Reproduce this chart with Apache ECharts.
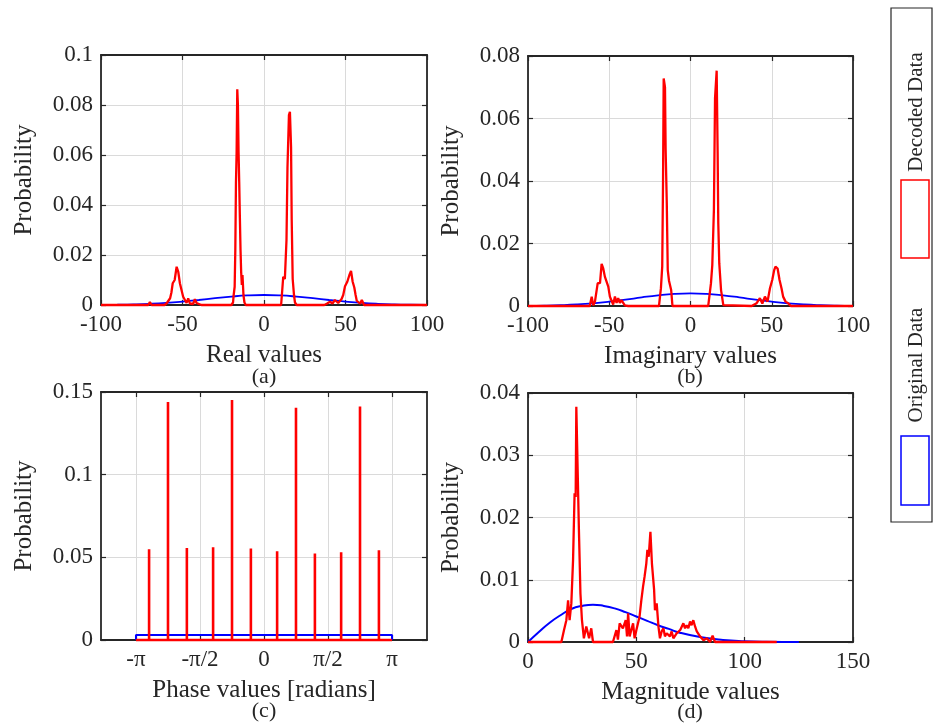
<!DOCTYPE html>
<html>
<head>
<meta charset="utf-8">
<script src="https://cdn.jsdelivr.net/npm/echarts@6/dist/echarts.min.js"></script>
<style>
  html, body { margin: 0; padding: 0; background: #fff; }
  #main { width: 934px; height: 724px; }
</style>
</head>
<body>
<div id="main"></div>
<script>
// 数据
var realOriginal = [[-100,0.00005],[-90,0.00012],[-80,0.00025],[-70,0.00048],[-60,0.00084],[-50,0.00136],[-40,0.002],[-30,0.00271],[-20,0.00336],[-10,0.00383],[0,0.004],
  [10,0.00383],[20,0.00336],[30,0.00271],[40,0.002],[50,0.00136],[60,0.00084],[70,0.00048],[80,0.00025],[90,0.00012],[100,0.00005]];
var realDecoded = [[-100,0],[-71,0],[-70,0.0012],[-69,0],[-61,0],[-59.7,0.0007],[-58.6,0.0012],[-57.6,0.0027],[-56.8,0.005],[-56,0.0087],[-54.8,0.01],[-53.6,0.0153],
  [-52.6,0.0133],[-51.6,0.0087],[-50.6,0.0093],[-49.6,0.0033],[-48.5,0.002],[-47.5,0.0008],[-46.5,0.0027],[-45.5,0.0006],[-44.5,0.0013],[-43.5,0.0004],[-42.4,0.0023],
  [-41.4,0.0008],[-40.4,0.0005],[-38.4,0],
  [-20,0],[-19,0.001],[-18.6,0.004],[-18,0.0073],[-17.6,0.022],[-17.2,0.049],[-16.8,0.061],[-16.4,0.0863],[-16,0.08],[-15.6,0.061],[-15.2,0.049],[-14.8,0.035],
  [-14.4,0.022],[-14,0.013],[-13.6,0.008],[-13.2,0.012],[-12.6,0.004],[-12,0.001],[-11.2,0],
  [10.5,0],[11.2,0.006],[11.8,0.0113],[12.8,0.0104],[13.8,0.026],[14.4,0.055],[15.3,0.076],[15.9,0.0773],[16.6,0.063],[17,0.034],[17.6,0.0104],[18.4,0.004],[19,0.001],[20,0],
  [37,0],[38.5,0.0005],[40.5,0.0013],[42,0.0006],[43.5,0.002],[45.5,0.0008],[47.6,0.0024],[48.6,0.004],[49.7,0.0075],[51.1,0.0093],[52.4,0.012],[53.4,0.0136],
  [54.4,0.0093],[55.4,0.007],[56.2,0.004],[56.9,0.0017],[59,0.0005],[60,0.002],[61.4,0],[100,0]];

var imagOriginal = [[-100,0.00005],[-90,0.00012],[-80,0.00026],[-70,0.00049],[-60,0.00086],[-50,0.00138],[-40,0.00203],[-30,0.00275],[-20,0.0034],[-10,0.00388],[0,0.00405],
  [10,0.00388],[20,0.0034],[30,0.00275],[40,0.00203],[50,0.00138],[60,0.00086],[70,0.00049],[80,0.00026],[90,0.00012],[100,0.00005]];
var imagDecoded = [[-100,0],[-62,0],[-60.8,0.003],[-59.8,0.0002],[-58.8,0.0014],[-57.1,0.0073],[-55.7,0.0073],[-54.7,0.0135],[-53.7,0.012],[-52.7,0.0094],[-51.7,0.0089],
  [-50.6,0.0062],[-49.6,0.003],[-48.6,0.0025],[-47.6,0.0005],[-46.5,0.003],[-45.5,0.001],[-44.5,0.0025],[-43.5,0.001],[-42.5,0.0019],[-40.4,0.0002],[-38.4,0],
  [-19.4,0],[-18.2,0.0057],[-17.4,0.0126],[-16.9,0.04],[-16.5,0.0728],[-15.7,0.07],[-15.3,0.05],[-14.6,0.033],[-14,0.0115],[-13.2,0.008],[-11.9,0.0051],[-11.1,0],
  [10.9,0],[12.6,0.0073],[13.4,0.013],[14.4,0.0307],[15.1,0.0665],[16.1,0.0753],[16.7,0.049],[17.1,0.0265],[17.7,0.0137],[18.8,0.0051],[20.2,0.0003],[21.2,0],
  [37.6,0],[40.7,0.0009],[42.7,0.0025],[44.2,0.0008],[45.8,0.003],[47.4,0.0014],[48.9,0.0057],[50.3,0.0083],[51.5,0.0115],[52.3,0.0126],[53.6,0.012],[54.8,0.0083],
  [56,0.0057],[57,0.003],[58.5,0.0014],[60.1,0.0009],[61.7,0],[100,0]];

var phaseStems = [-2.820, -2.356, -1.893, -1.249, -0.785, -0.322, 0.322, 0.785, 1.249, 1.893, 2.356, 2.820];
var phaseHeights = [0.0549, 0.1439, 0.0557, 0.0561, 0.1452, 0.0553, 0.0537, 0.1405, 0.0523, 0.0531, 0.1413, 0.0543];
var phaseOriginal = [[-3.1416,0],[-3.1416,0.003],[3.1416,0.003],[3.1416,0]];
var phaseTicks = [-Math.PI, -Math.PI / 2, 0, Math.PI / 2, Math.PI];
var phaseTickLabels = ['-π', '-π/2', '0', 'π/2', 'π'];

var magOriginal = [[0,0],[5,0.0016],[10,0.0031],[15,0.0043],[20,0.0053],[25,0.0058],[30,0.006],[35,0.0058],[40,0.0054],[45,0.0048],[50,0.0041],[55,0.0034],
  [60,0.0027],[65,0.0021],[70,0.0015],[80,0.00075],[90,0.00033],[100,0.00013],[110,0.00004],[125,0]];
var magDecoded = [[0,0],[15.4,0],[16.6,0.0019],[17.7,0.0035],[18.5,0.0067],[19.2,0.0035],[20,0.0062],[20.8,0.0132],[21.5,0.0239],[22,0.0233],[22.3,0.0378],[23.1,0.0381],
  [23.5,0.018],[24.2,0.0078],[24.9,0.0035],[25.8,0.0006],[26.9,0.0025],[28.2,0.0006],[29.2,0.0022],[30,0],
  [39.2,0],[40.8,0.0019],[41.5,0.0004],[42.3,0.003],[43.8,0.0022],[45.1,0.0035],[45.7,0.0009],[46.2,0.0046],[46.9,0.0009],[48.5,0.003],[49.2,0.0006],[50,0.0019],
  [51.5,0.0041],[52.3,0.0067],[53.1,0.0089],[53.8,0.0105],[54.6,0.0126],[55.1,0.0148],[55.7,0.0137],[56.5,0.0177],[57.2,0.0126],[58.2,0.0084],[58.6,0.0051],
  [59.4,0.0062],[60.2,0.0025],[60.9,0.0006],[61.7,0.0017],[62.5,0.0022],[63.2,0.0009],[64,0.0014],[65.5,0.0009],[66.3,0.0017],[67.1,0.0006],[68.6,0.0014],
  [70.2,0.0019],[70.9,0.0017],[71.7,0.003],[72.5,0.0022],[73.2,0.0027],[74,0.0022],[74.8,0.0033],[75.5,0.0027],[76.3,0.0035],[77.1,0.0025],[77.9,0.0017],
  [78.6,0.0014],[79.4,0.0009],[81,0.0003],[82.5,0.0006],[84,0],[85.2,0.001],[86.3,0],[114.8,0]];

var myChart = echarts.init(document.getElementById('main'));

var FONT = 'Liberation Serif';
var DARK = '#262626';

// 四个子图的位置
var grids = [
  {left: 101, top: 55, width: 326, height: 250},
  {left: 528, top: 56, width: 325, height: 250},
  {left: 101, top: 392, width: 326, height: 248},
  {left: 528, top: 393, width: 325, height: 249}
];

var xAxes = [], yAxes = [];
function addAxes(gi, xMin, xMax, xInt, yMax, yInt, xName, custom) {
  var line = {show: true, onZero: false, lineStyle: {color: DARK, width: 1.8}};
  var tick = {show: true, inside: true, length: 5, lineStyle: {color: DARK, width: 1.2}};
  var split = {show: true, lineStyle: {color: '#dadada', width: 1}};
  var lab = {color: DARK, fontFamily: FONT, fontSize: 23, margin: 8, showMinLabel: true, showMaxLabel: true};
  var bx = {
    type: 'value', gridIndex: gi, position: 'bottom', min: xMin, max: xMax, interval: xInt,
    axisLine: line, axisTick: Object.assign({}, tick), splitLine: split, axisLabel: Object.assign({}, lab),
    name: xName, nameLocation: 'middle', nameGap: 38,
    nameTextStyle: {color: DARK, fontFamily: FONT, fontSize: 25}
  };
  var tx = {
    type: 'value', gridIndex: gi, position: 'top', min: xMin, max: xMax, interval: xInt,
    axisLine: line, axisTick: Object.assign({}, tick), splitLine: {show: false}, axisLabel: {show: false}
  };
  if (custom) {
    bx.axisTick.customValues = custom.ticks;
    tx.axisTick.customValues = custom.ticks;
    bx.axisLabel.customValues = custom.ticks;
    bx.axisLabel.formatter = function (v) {
      var best = 0;
      for (var i = 0; i < custom.ticks.length; i++) {
        if (Math.abs(custom.ticks[i] - v) < Math.abs(custom.ticks[best] - v)) best = i;
      }
      return custom.labels[best];
    };
  }
  xAxes.push(bx, tx);
  yAxes.push({
    type: 'value', gridIndex: gi, position: 'left', min: 0, max: yMax, interval: yInt,
    axisLine: line, axisTick: tick, splitLine: split, axisLabel: lab,
    name: 'Probability', nameLocation: 'middle', nameGap: 64, nameRotate: 90,
    nameTextStyle: {color: DARK, fontFamily: FONT, fontSize: 25}
  }, {
    type: 'value', gridIndex: gi, position: 'right', min: 0, max: yMax, interval: yInt,
    axisLine: line, axisTick: tick, splitLine: {show: false}, axisLabel: {show: false}
  });
}
addAxes(0, -100, 100, 50, 0.1, 0.02, 'Real values');
addAxes(1, -100, 100, 50, 0.08, 0.02, 'Imaginary values');
addAxes(2, -4, 4, 1, 0.15, 0.05, 'Phase values [radians]', {ticks: phaseTicks, labels: phaseTickLabels});
addAxes(3, 0, 150, 50, 0.04, 0.01, 'Magnitude values');

// 红色竖线 (phase)
var phaseDecoded = [[-Math.PI, 0]];
phaseStems.forEach(function (x, i) {
  phaseDecoded.push([x, 0], [x, phaseHeights[i]], [x, 0]);
});
phaseDecoded.push([Math.PI, 0]);

function lineSeries(gi, data, color, width, smooth) {
  return {
    type: 'line', xAxisIndex: gi * 2, yAxisIndex: gi * 2, data: data,
    showSymbol: false, symbol: 'none', smooth: smooth, clip: false,
    lineStyle: {color: color, width: width}
  };
}

var series = [
  lineSeries(0, realOriginal, '#0000ff', 1.8, true),
  lineSeries(0, realDecoded, '#ff0000', 2.3, false),
  lineSeries(1, imagOriginal, '#0000ff', 1.8, true),
  lineSeries(1, imagDecoded, '#ff0000', 2.3, false),
  lineSeries(2, phaseOriginal, '#0000ff', 2, false),
  lineSeries(2, phaseDecoded, '#ff0000', 2.6, false),
  lineSeries(3, magOriginal, '#0000ff', 2, true),
  lineSeries(3, magDecoded, '#ff0000', 2.3, false)
];

var subLabels = [['(a)', 264, 377], ['(b)', 690, 377], ['(c)', 264, 711], ['(d)', 690, 712]];
var graphics = subLabels.map(function (s) {
  return {type: 'text', x: s[1], y: s[2], style: {text: s[0], fill: DARK, font: '22px "Liberation Serif"', textAlign: 'center', textVerticalAlign: 'middle'}};
});
// 图例 (rotated)
graphics.push(
  {type: 'rect', shape: {x: 891, y: 8, width: 41, height: 514}, style: {fill: '#fff', stroke: DARK, lineWidth: 1.2}},
  {type: 'rect', shape: {x: 901, y: 180, width: 28, height: 78}, style: {fill: 'none', stroke: '#ff0000', lineWidth: 1.5}},
  {type: 'rect', shape: {x: 901, y: 436, width: 28, height: 69}, style: {fill: 'none', stroke: '#0000ff', lineWidth: 1.5}},
  {type: 'text', x: 916, y: 112, rotation: Math.PI / 2, style: {text: 'Decoded Data', fill: DARK, font: '21px "Liberation Serif"', textAlign: 'center', textVerticalAlign: 'middle'}},
  {type: 'text', x: 916, y: 365, rotation: Math.PI / 2, style: {text: 'Original Data', fill: DARK, font: '21px "Liberation Serif"', textAlign: 'center', textVerticalAlign: 'middle'}}
);

var option = {
  animation: false,
  backgroundColor: '#fff',
  grid: grids.map(function (g) { return Object.assign({containLabel: false, outerBoundsMode: 'none'}, g); }),
  xAxis: xAxes,
  yAxis: yAxes,
  series: series,
  graphic: graphics
};

myChart.setOption(option);
</script>
</body>
</html>
